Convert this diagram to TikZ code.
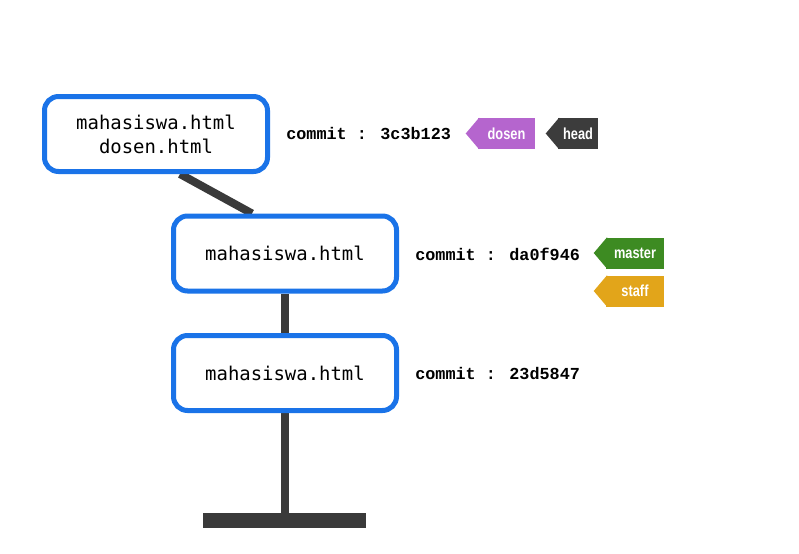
\documentclass[tikz,border=0pt]{standalone}
\usepackage{fontspec}
\setmainfont{Liberation Sans}
\newfontfamily\filefont{DejaVu Sans Mono}
\newfontfamily\commitfont{Liberation Mono}
\newfontfamily\tagfont{Liberation Sans}[FakeStretch=0.8]
\usetikzlibrary{backgrounds}
\definecolor{boxblue}{RGB}{26,115,232}
\definecolor{linkgray}{RGB}{58,58,58}
\definecolor{tagpurple}{RGB}{181,101,206}
\definecolor{taghead}{RGB}{60,60,60}
\definecolor{taggreen}{RGB}{61,139,34}
\definecolor{taggold}{RGB}{226,165,26}
\tikzset{
  filebox/.style={draw=boxblue, line width=3.75pt, fill=white, rounded corners=10.5pt,
    minimum width=167.25pt, minimum height=56.25pt, inner sep=0pt, align=center,
    font=\filefont\fontsize{14.2}{18}\selectfont},
  link/.style={draw=linkgray, line width=5.5pt},
  commitlbl/.style={anchor=west, inner sep=0pt, font=\commitfont\bfseries\fontsize{12.6}{15}\selectfont},
  tagbody/.style={minimum height=23.25pt, inner sep=0pt, text=white,
    font=\tagfont\bfseries\fontsize{12}{14}\selectfont},
}
\newcommand{\tagpoint}[2]{%
  \begin{scope}[on background layer]
    \fill[#2] ([xshift=1pt]#1.north west) -- ([xshift=-9pt]#1.west) -- ([xshift=1pt]#1.south west) -- cycle;
  \end{scope}}
\begin{document}
\begin{tikzpicture}[x=0.75pt,y=-0.75pt]
\useasboundingbox (0,0) rectangle (799,553);
% commit boxes
\node[filebox] (b1) at (156,134) {mahasiswa.html\\dosen.html};
\node[filebox] (b2) at (285,253.5) {mahasiswa.html};
\node[filebox] (b3) at (285,373) {mahasiswa.html};
\node[fill=linkgray, minimum width=122.25pt, minimum height=11.25pt, inner sep=0pt] (base) at (284.5,520.5) {};
\begin{scope}[on background layer]
  \draw[link, line width=6pt] ([xshift=18pt]b1.south) -- ([xshift=-24.75pt]b2.north);
  \draw[link] (b2.south) -- (b3.north);
  \draw[link] (b3.south) -- (b3.south |- base.center);
\end{scope}
% commit labels
\node[commitlbl] (c1) at (286,134) {commit : 3c3b123};
\node[commitlbl] (c2) at (415,254) {commit : da0f946};
\node[commitlbl] (c3) at (415,374) {commit : 23d5847};
% tags
\node[tagbody, fill=tagpurple, minimum width=42.75pt] (tdosen) at (506.5,133.5) {dosen};
\tagpoint{tdosen}{tagpurple}
\node[tagbody, fill=taghead, minimum width=30pt] (thead) at (578,133.5) {head};
\tagpoint{thead}{taghead}
\node[tagbody, fill=taggreen, minimum width=43.5pt] (tmaster) at (635,253) {master};
\tagpoint{tmaster}{taggreen}
\node[tagbody, fill=taggold, minimum width=43.5pt] (tstaff) at (635,291) {staff};
\tagpoint{tstaff}{taggold}
\end{tikzpicture}
\end{document}
